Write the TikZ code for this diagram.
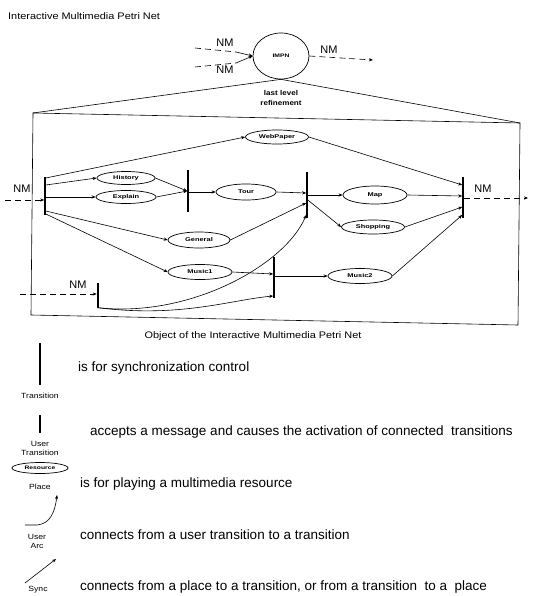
\documentclass[tikz,border=0pt]{standalone}
\usepackage{fontspec}
\setmainfont{Liberation Sans}
\newfontfamily\wf[FakeStretch=1.15]{Liberation Sans}
\newfontfamily\pf[FakeStretch=1.35]{Liberation Sans}
\usetikzlibrary{shapes.geometric,arrows.meta}
\begin{document}
\begin{tikzpicture}[x=1pt,y=-1pt,
  place/.style={draw,ellipse,inner sep=0pt,line width=0.7pt,font=\pf\bfseries\fontsize{5.5}{6}\selectfont},
  trans/.style={fill=black,inner sep=0pt,minimum width=1.2pt,draw=none},
  utrans/.style={fill=black,inner sep=0pt,minimum width=2.2pt,draw=none},
  arc/.style={line width=0.6pt,-{Stealth[length=4pt,width=3.2pt]}},
  plain/.style={line width=0.6pt},
  nmline/.style={line width=0.6pt,dash pattern=on 6pt off 4pt},
  nm/.style={font=\fontsize{11}{12}\selectfont,inner sep=0pt},
  small/.style={font=\wf\fontsize{7.5}{9}\selectfont,inner sep=0pt,align=center},
  caption/.style={font=\wf\fontsize{9.5}{11}\selectfont,inner sep=0pt},
  legend/.style={font=\fontsize{13.5}{15}\selectfont,inner sep=0pt,anchor=west}
]
\useasboundingbox (0,0) rectangle (542,596);

% title
\node[caption,anchor=west] (title) at (8,16) {Interactive Multimedia Petri Net};

% top level place
\node[draw,ellipse,line width=0.7pt,minimum width=56pt,minimum height=46pt,inner sep=0pt,
      font=\pf\bfseries\fontsize{5}{6}\selectfont] (pmn) at (281,56) {IMPN};
\coordinate (inA) at (195,48);
\coordinate (inAb) at (236,52);
\coordinate (inB) at (195,67);
\coordinate (inBb) at (236,63);
\coordinate (outA) at (373,60);
\draw[nmline] (inA) -- (inAb);
\draw[arc] (inAb) -- (pmn.west);
\draw[nmline] (inB) -- (inBb);
\draw[arc] (inBb) -- (pmn.west);
\draw[nmline,-{Stealth[length=4pt,width=3.2pt]}] (pmn.east) -- (outA);
\node[nm] (nmA) at (225,43) {NM};
\node[nm] (nmB) at (225,70) {NM};
\node[nm] (nmC) at (329,50) {NM};
\node[small,font=\wf\bfseries\fontsize{7}{10}\selectfont] (llr) at (281,98) {last level\\refinement};

% frame and refinement triangle
\coordinate (fTL) at (33,113);
\coordinate (fTR) at (520,123);
\coordinate (fBR) at (518,325);
\coordinate (fBL) at (31,315);
\draw[plain] (fTL) -- (pmn.south) -- (fTR);
\draw[plain] (fTL) -- (fTR) -- (fBR) -- (fBL) -- cycle;

% transitions
\node[trans,minimum height=38pt] (t1) at (45,196) {};
\node[trans,minimum height=42pt] (t2) at (188,191) {};
\node[trans,minimum height=46pt] (t3) at (307,195) {};
\node[trans,minimum height=41pt] (t4) at (274,277) {};
\node[trans,minimum height=41pt] (t5) at (463,197) {};
\node[utrans,minimum height=25pt] (u) at (98,295) {};

% places
\node[place,minimum width=63pt,minimum height=14pt] (web) at (277,137) {WebPaper};
\node[place,minimum width=58pt,minimum height=13pt] (hist) at (126,178) {History};
\node[place,minimum width=60pt,minimum height=13pt] (expl) at (126,197) {Explain};
\node[place,minimum width=60pt,minimum height=16pt] (tour) at (246,192) {Tour};
\node[place,minimum width=62pt,minimum height=16pt] (gen) at (199,240) {General};
\node[place,minimum width=64pt,minimum height=15pt] (mus1) at (200,272) {Music1};
\node[place,minimum width=64pt,minimum height=18pt] (map) at (375,195) {Map};
\node[place,minimum width=63pt,minimum height=14pt] (shop) at (373,227) {Shopping};
\node[place,minimum width=64pt,minimum height=15pt] (mus2) at (360,276) {Music2};

% inputs / outputs of the net
\coordinate (netin) at (5,200);
\coordinate (netout) at (528,198);
\coordinate (uin) at (20,294);
\draw[nmline,-{Stealth[length=4pt,width=3.2pt]}] (netin) -- ([yshift=-4pt]t1.west);
\draw[nmline,-{Stealth[length=4pt,width=3.2pt]}] ([yshift=-1pt]t5.east) -- (netout);
\draw[nmline,-{Stealth[length=4pt,width=3.2pt]}] (uin) -- ([yshift=1pt]u.west);
\node[nm] (nm1) at (22,189) {NM};
\node[nm] (nm2) at (483,189) {NM};
\node[nm] (nm3) at (78,285) {NM};

% arcs
\draw[arc] ([yshift=18pt]t1.east) -- (web.west);
\draw[arc] ([yshift=11pt]t1.east) -- (hist.west);
\draw[arc] ([yshift=-1pt]t1.east) -- (expl.west);
\draw[arc] ([yshift=-15pt]t1.east) -- (gen.west);
\draw[arc] ([yshift=-18pt]t1.east) -- (mus1.west);
\draw[arc] (hist.east) -- (t2.west);
\draw[arc] (expl.east) -- (t2.west);
\draw[arc] ([yshift=-1pt]t2.east) -- (tour.west);
\draw[arc] (tour.east) -- ([yshift=2pt]t3.west);
\draw[arc] (gen.east) -- ([yshift=-8pt]t3.west);
\draw[arc] (t3.east) -- (map.west);
\draw[arc] ([yshift=-5pt]t3.east) -- (shop.west);
\draw[arc] (mus1.east) -- ([yshift=3pt]t4.west);
\draw[arc] ([yshift=1pt]t4.east) -- (mus2.west);
\draw[arc] (web.east) -- ([yshift=12pt]t5.west);
\draw[arc] (map.east) -- ([yshift=1pt]t5.west);
\draw[arc] (shop.east) -- ([yshift=-10pt]t5.west);
\draw[arc] (mus2.east) -- ([yshift=-18pt]t5.west);

% user arcs
\draw[arc] (u.south) .. controls (190,318) and (285,265) .. ([yshift=-20pt]t3.west);
\draw[arc] (u.south) .. controls (180,318) and (230,300) .. ([yshift=-19pt]t4.west);

% caption
\node[caption] (objcap) at (253,336) {Object of the Interactive Multimedia Petri Net};

% legend
\node[trans,minimum height=42pt] (lt) at (40,364) {};
\node[small] (ltl) at (40,396) {Transition};
\node[legend] (ltx) at (78,368) {is for synchronization control};

\node[utrans,minimum height=18pt] (lu) at (40,424) {};
\node[small] (lul) at (40,448) {User\\Transition};
\node[legend] (lux) at (90,432) {accepts a message and causes the activation of connected\ \ transitions};

\node[place,minimum width=56pt,minimum height=11pt,font=\pf\bfseries\fontsize{5}{6}\selectfont] (lp) at (40,468) {Resource};
\node[small] (lpl) at (40,487) {Place};
\node[legend] (lpx) at (80,484) {is for playing a multimedia resource};

\coordinate (lua) at (25,525);
\coordinate (lub) at (57,495);
\draw[arc] (lua) -- (37,525) .. controls (50,524) and (55,512) .. (lub);
\node[small] (lual) at (37,541) {User\\Arc};
\node[legend] (luax) at (80,535) {connects from a user transition to a transition};

\coordinate (lsa) at (25,583);
\coordinate (lsb) at (56,559);
\draw[arc] (lsa) -- (lsb);
\node[small] (lsl) at (38,590) {Sync};
\node[legend] (lsx) at (80,587) {connects from a place to a transition, or from a transition\ \ to a\ \ place};
\end{tikzpicture}
\end{document}
